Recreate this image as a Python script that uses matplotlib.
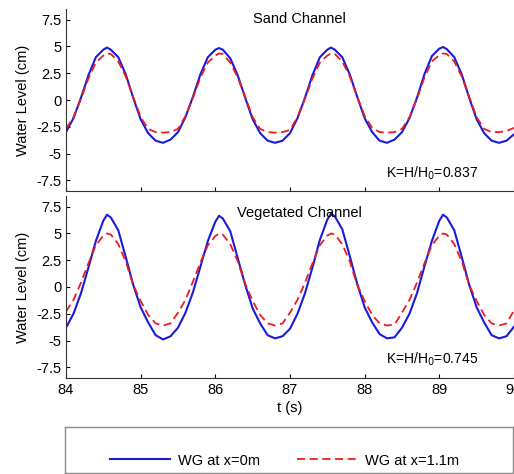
import numpy as np
import matplotlib
matplotlib.use("Agg")
import matplotlib.pyplot as plt
from matplotlib.lines import Line2D

plt.rcParams['font.family'] = ['Liberation Sans', 'DejaVu Sans']

# sample times (s)
t = [84.0, 84.1, 84.2, 84.3, 84.4, 84.5, 84.55, 84.6, 84.7, 84.8, 84.9, 85.0, 85.1, 85.2, 85.3, 85.4,
     85.5, 85.6, 85.7, 85.8, 85.9, 86.0, 86.05, 86.1, 86.2, 86.3, 86.4, 86.5, 86.6, 86.7, 86.8, 86.9,
     87.0, 87.1, 87.2, 87.3, 87.4, 87.5, 87.55, 87.6, 87.7, 87.8, 87.9, 88.0, 88.1, 88.2, 88.3, 88.4,
     88.5, 88.6, 88.7, 88.8, 88.9, 89.0, 89.05, 89.1, 89.2, 89.3, 89.4, 89.5, 89.6, 89.7, 89.8, 89.9,
     90.0]

# Sand channel
sand_x0 = [-3.0, -1.7, 0.2, 2.3, 4.0, 4.7, 4.9, 4.7, 4.0, 2.4, 0.2, -1.8, -3.1, -3.8, -4.0, -3.7,
           -3.0, -1.6, 0.3, 2.4, 4.0, 4.7, 4.85, 4.7, 3.9, 2.3, 0.2, -1.8, -3.1, -3.8, -4.0, -3.8,
           -3.1, -1.7, 0.2, 2.3, 4.0, 4.7, 4.9, 4.7, 4.0, 2.4, 0.3, -1.7, -3.0, -3.8, -4.0, -3.7,
           -3.0, -1.7, 0.2, 2.4, 4.1, 4.8, 4.95, 4.75, 4.0, 2.4, 0.2, -1.8, -3.1, -3.8, -4.0, -3.8,
           -3.2]
sand_x11 = [-2.7, -1.6, 0.1, 2.0, 3.5, 4.15, 4.35, 4.3, 3.6, 2.2, 0.3, -1.6, -2.7, -3.0, -3.05, -3.0,
            -2.7, -1.5, 0.2, 2.1, 3.5, 4.15, 4.35, 4.3, 3.5, 2.1, 0.3, -1.6, -2.7, -3.0, -3.05, -3.0,
            -2.8, -1.6, 0.1, 2.0, 3.5, 4.15, 4.35, 4.3, 3.6, 2.2, 0.3, -1.5, -2.6, -3.0, -3.05, -3.0,
            -2.7, -1.6, 0.1, 2.1, 3.6, 4.2, 4.35, 4.3, 3.6, 2.2, 0.3, -1.6, -2.7, -3.0, -3.0, -2.9,
            -2.6]
# Vegetated channel
veg_x0 = [-3.8, -2.5, -0.6, 1.8, 4.3, 6.2, 6.75, 6.5, 5.3, 2.8, 0.2, -1.9, -3.3, -4.5, -4.9, -4.6,
          -3.8, -2.4, -0.5, 1.9, 4.3, 6.1, 6.65, 6.4, 5.2, 2.7, 0.2, -2.0, -3.4, -4.5, -4.8, -4.6,
          -3.9, -2.5, -0.6, 1.8, 4.4, 6.3, 6.85, 6.6, 5.4, 2.9, 0.3, -1.9, -3.3, -4.4, -4.8, -4.7,
          -3.8, -2.5, -0.6, 1.9, 4.3, 6.2, 6.75, 6.5, 5.3, 2.8, 0.2, -1.9, -3.3, -4.5, -4.8, -4.6,
          -3.7]
veg_x11 = [-2.3, -1.2, 0.4, 2.2, 3.9, 4.8, 5.0, 4.9, 4.0, 2.4, 0.2, -1.3, -2.6, -3.4, -3.6, -3.4,
           -2.4, -1.2, 0.5, 2.3, 3.9, 4.75, 5.0, 4.9, 4.0, 2.4, 0.3, -1.3, -2.6, -3.4, -3.6, -3.4,
           -2.4, -1.2, 0.4, 2.2, 3.9, 4.8, 5.0, 4.9, 4.0, 2.4, 0.2, -1.3, -2.6, -3.4, -3.6, -3.5,
           -2.4, -1.2, 0.4, 2.2, 3.9, 4.8, 5.0, 4.9, 4.0, 2.4, 0.2, -1.3, -2.6, -3.4, -3.6, -3.4,
           -2.2]

yticks = [-7.5, -5, -2.5, 0, 2.5, 5, 7.5]
yticklabels = ['-7.5', '-5', '-2.5', '0', '2.5', '5', '7.5']
xticks = [84, 85, 86, 87, 88, 89, 90]
panel_titles = ['Sand Channel', 'Vegetated Channel']
k_labels = [r'K=H/H$_0$=0.837', r'K=H/H$_0$=0.745']
legend_labels = ['WG at x=0m', 'WG at x=1.1m']

W, H = 514, 474
fig = plt.figure(figsize=(W / 100, H / 100), dpi=100)

def fx(px):
    return px / W

def fy(py):
    return 1 - py / H

ax1 = fig.add_axes([fx(66), fy(191), fx(448), (191 - 9) / H])
ax2 = fig.add_axes([fx(66), fy(378), fx(448), (378 - 196) / H])

blue = '#1a1adc'
red = '#ee1c1c'
dash = (0, (4.5, 2.5))
for ax, b, r, title, kl, title_y in [(ax1, sand_x0, sand_x11, panel_titles[0], k_labels[0], 0.945),
                                     (ax2, veg_x0, veg_x11, panel_titles[1], k_labels[1], 0.905)]:
    ax.plot(t, b, color=blue, lw=1.5, solid_joinstyle='round')
    ax.plot(t, r, color=red, lw=1.3, ls=dash)
    ax.set_xlim(84, 90)
    ax.set_ylim(-8.5, 8.5)
    ax.set_yticks(yticks)
    ax.set_yticklabels(yticklabels)
    ax.set_xticks(xticks)
    ax.tick_params(direction='in', length=3, labelsize=10.5, width=0.8)
    ax.spines['top'].set_visible(False)
    ax.spines['right'].set_visible(False)
    ax.spines['left'].set_color('#333333')
    ax.spines['bottom'].set_color('#333333')
    ax.set_ylabel('Water Level (cm)', fontsize=10.5, labelpad=4)
    ax.text(0.52, title_y, title, transform=ax.transAxes, ha='center', va='center', fontsize=10.5)
    ax.text(0.715, 0.1, kl, transform=ax.transAxes, ha='left', va='center', fontsize=10)

ax1.tick_params(labelbottom=False)
ax2.set_xticklabels([str(v) for v in xticks])
ax2.set_xlabel('t (s)', fontsize=10.5, labelpad=3)

# legend box
lax = fig.add_axes([fx(65), fy(473), fx(448), 46 / H])
lax.set_xticks([])
lax.set_yticks([])
for s in lax.spines.values():
    s.set_color('#8a8a8a')
    s.set_linewidth(1.0)
handles = [Line2D([], [], color=blue, lw=1.5),
           Line2D([], [], color=red, lw=1.3, ls=dash)]
lax.legend(handles, legend_labels, ncol=2, frameon=False, loc='center',
           bbox_to_anchor=(0.49, 0.27), fontsize=10.5, handlelength=4.1,
           columnspacing=2.5, handletextpad=0.55)

fig.savefig('out.png', dpi=100)
